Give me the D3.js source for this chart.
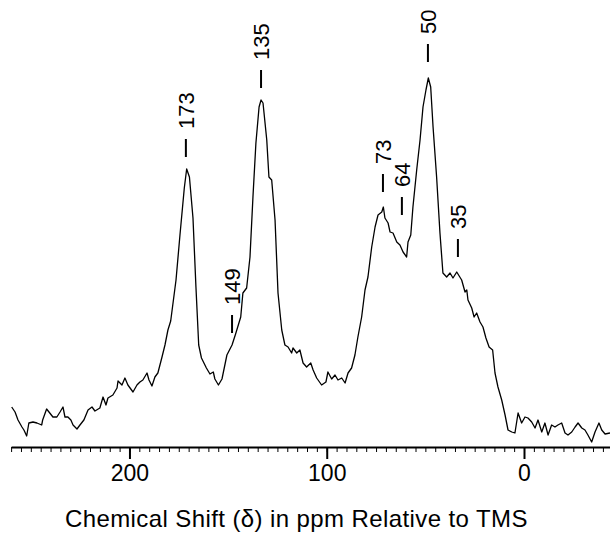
<!DOCTYPE html>
<html>
<head>
<meta charset="utf-8">
<script src="https://cdn.jsdelivr.net/npm/d3@7"></script>
<style>
  body { margin: 0; background: #fff; }
  text { font-family: "Liberation Sans", Arial, Helvetica, sans-serif; fill: #000; }
</style>
</head>
<body>
<div id="chart-area"></div>
<script>
const WIDTH = 610
const HEIGHT = 540

// spectrum: chemical shift (ppm) and intensity (arbitrary units)
const shift = [
  259.7, 258.0, 256.5, 254.5, 253.5, 252.1, 251.0, 248.9, 246.9, 244.5, 244.0, 242.0, 240.4, 238.8,
  236.8, 235.2, 233.7, 232.7, 231.2, 229.7, 228.6, 226.6, 225.1, 223.1, 221.0, 219.0, 217.5, 215.0,
  213.4, 211.9, 210.9, 208.4, 206.3, 205.8, 203.8, 202.3, 200.8, 198.2, 196.2, 194.7, 193.2, 191.1,
  190.1, 188.6, 187.1, 185.6, 183.5, 182.0, 180.5, 179.1, 176.4, 174.4, 172.2, 171.0, 169.6, 167.8,
  166.3, 164.9, 163.5, 161.0, 159.2, 157.5, 156.7, 154.9, 153.1, 150.6, 148.0, 146.2, 143.6, 142.5,
  140.6, 138.9, 137.4, 135.9, 134.3, 133.3, 132.3, 130.4, 129.3, 127.9, 126.2, 124.7, 122.8, 121.2,
  119.6, 117.8, 117.1, 115.2, 113.6, 112.0, 110.2, 108.1, 106.9, 105.1, 102.6, 100.4, 99.4, 97.5,
  95.8, 94.3, 92.4, 90.7, 89.2, 87.4, 85.7, 84.2, 82.3, 80.6, 79.1, 77.2, 75.5, 74.0, 72.1, 71.3,
  70.5, 68.9, 67.9, 66.4, 64.5, 62.9, 61.3, 59.5, 58.8, 57.4, 56.3, 54.4, 52.7, 51.2, 49.7, 48.5,
  47.3, 46.1, 44.3, 42.6, 41.1, 39.2, 37.5, 36.0, 34.1, 31.6, 29.9, 29.0, 28.4, 26.5, 25.3, 24.0,
  22.3, 20.8, 19.3, 17.7, 15.9, 14.7, 13.2, 11.3, 9.6, 8.1, 6.2, 4.6, 3.0, 1.2, -0.5, -2.0, -3.9,
  -5.6, -7.1, -9.0, -10.6, -12.2, -14.0, -15.7, -17.2, -19.1, -20.8, -22.3, -24.2, -25.9, -27.4,
  -29.3, -30.9, -32.4, -34.3, -36.0, -38.0, -39.4, -41.1, -43.6
]
const intensity = [
  40, 35, 27, 20, 17, 11, 24, 25, 24, 22, 27, 38, 34, 30,
  30, 35, 40, 30, 30, 27, 22, 18, 22, 27, 37, 40, 36, 39,
  50, 42, 49, 52, 59, 66, 62, 69, 62, 55, 62, 65, 67, 74,
  67, 61, 70, 74, 90, 102, 117, 126, 167, 212, 259, 278, 270, 229,
  160, 102, 89, 79, 73, 75, 68, 62, 68, 92, 102, 113, 130, 154,
  159, 190, 250, 304, 340, 347, 344, 307, 270, 267, 227, 154, 117, 102,
  100, 94, 99, 94, 97, 84, 80, 84, 77, 69, 62, 65, 75, 68,
  72, 67, 69, 64, 74, 79, 92, 110, 130, 157, 170, 200, 220, 232, 235, 240,
  229, 224, 215, 214, 205, 202, 195, 190, 205, 212, 240, 277, 307, 340, 357, 369,
  360, 320, 270, 214, 174, 170, 174, 169, 175, 167, 155, 157, 147, 139, 130, 134,
  125, 120, 109, 100, 97, 74, 60, 47, 32, 17, 15, 14, 34, 24, 30, 29, 25,
  19, 27, 15, 24, 12, 22, 20, 22, 24, 14, 12, 15, 20, 24,
  19, 17, 12, 5, 15, 24, 17, 13, 14
]

// peak annotations
const peakLabels = ["173", "149", "135", "73", "64", "50", "35"]
const peakShift = [171.4, 148.0, 133.3, 71.5, 61.9, 48.7, 33.5]
const peakLevel = [290, 114, 359, 255, 232, 385, 190]

const majorTicks = [200, 100, 0]
const minorTicks = d3.range(-40, 261, 5)
const xTitle = "Chemical Shift (\u03B4) in ppm Relative to TMS"

const data = shift.map((s, i) => ({ s: s, v: intensity[i] }))

const svg = d3.select("#chart-area").append("svg")
  .attr("width", WIDTH)
  .attr("height", HEIGHT)

const x = d3.scaleLinear()
  .domain([260, -44])
  .range([11.1, 610.8])

const y = d3.scaleLinear()
  .domain([0, 440])
  .range([447, 7])

// minor ticks
svg.append("g")
  .attr("class", "x axis minor")
  .attr("transform", "translate(0, 447)")
  .call(d3.axisBottom(x).tickValues(minorTicks).tickSize(5).tickSizeOuter(0).tickFormat(""))
  .call(g => g.select(".domain").attr("stroke-width", 1.8))

// major ticks
svg.append("g")
  .attr("class", "x axis major")
  .attr("transform", "translate(0, 447)")
  .call(d3.axisBottom(x).tickValues(majorTicks).tickSize(12).tickSizeOuter(0).tickPadding(6))
  .call(g => g.select(".domain").remove())
  .call(g => g.selectAll(".tick line").attr("stroke-width", 2))
  .call(g => g.selectAll(".tick text")
    .attr("font-family", "Liberation Sans, Arial, sans-serif")
    .attr("font-size", "23px"))

// X label
svg.append("text")
  .attr("x", 65)
  .attr("y", 527)
  .attr("font-size", "24px")
  .attr("letter-spacing", "0.4px")
  .attr("text-anchor", "start")
  .text(xTitle)

// spectrum
const line = d3.line()
  .x(d => x(d.s))
  .y(d => y(d.v))

svg.append("path")
  .datum(data)
  .attr("fill", "none")
  .attr("stroke", "#000")
  .attr("stroke-width", 1.3)
  .attr("stroke-linejoin", "round")
  .attr("d", line)

// peak labels
const peaks = svg.selectAll(".peak")
  .data(peakLabels)
  .enter().append("g")
  .attr("class", "peak")
  .attr("transform", (d, i) => `translate(${x(peakShift[i])}, ${y(peakLevel[i])})`)

peaks.append("line")
  .attr("y1", 0)
  .attr("y2", -18)
  .attr("stroke", "#000")
  .attr("stroke-width", 2)

peaks.append("text")
  .attr("transform", "translate(0, -28) rotate(-90)")
  .attr("dy", "0.36em")
  .attr("font-size", "22px")
  .attr("text-anchor", "start")
  .text(d => d)
</script>
</body>
</html>
